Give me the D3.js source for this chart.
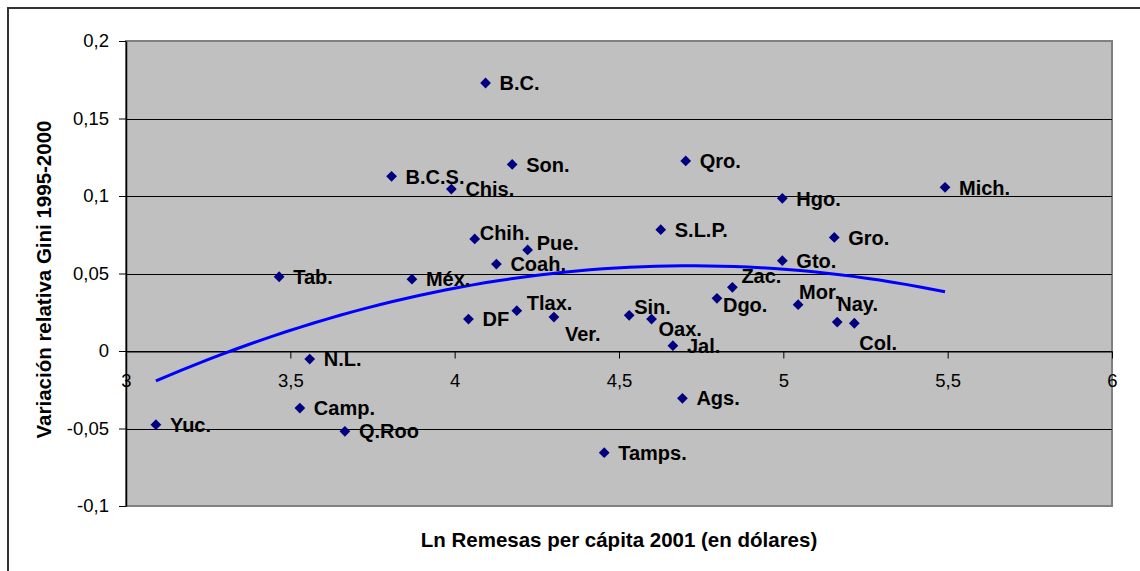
<!DOCTYPE html>
<html>
<head>
<meta charset="utf-8">
<script src="https://cdn.jsdelivr.net/npm/d3@7"></script>
<style>
  body { margin: 0; background: #fff; }
  svg { display: block; font-family: Arial, "Liberation Sans", sans-serif; }
  .state-label { font-weight: bold; font-size: 20px; fill: #000; }
  .axis text { font-size: 18.5px; fill: #000; }
  .axis-title { font-weight: bold; font-size: 20.5px; fill: #000; }
</style>
</head>
<body>
<div id="chart"></div>
<script>
// Data
const states = ["B.C.", "Son.", "Qro.", "B.C.S.", "Chis.", "Chih.", "Pue.", "Coah.", "Méx.", "S.L.P.",
  "Zac.", "Hgo.", "Mich.", "Gro.", "Gto.", "Mor.", "Nay.", "Col.", "Tab.", "N.L.",
  "Camp.", "Yuc.", "Q.Roo", "DF", "Tlax.", "Ver.", "Sin.", "Oax.", "Jal.", "Dgo.",
  "Ags.", "Tamps."];
const lnRemesas = [4.094, 4.175, 4.703, 3.808, 3.990, 4.061, 4.222, 4.127, 3.870, 4.627,
  4.845, 4.997, 5.492, 5.155, 4.997, 5.045, 5.164, 5.216, 3.466, 3.559,
  3.529, 3.091, 3.666, 4.042, 4.189, 4.302, 4.531, 4.599, 4.664, 4.798,
  4.693, 4.455];
const giniVar = [0.1729, 0.1204, 0.1226, 0.1127, 0.1045, 0.0723, 0.0652, 0.0561, 0.0463, 0.0783,
  0.0411, 0.0985, 0.1056, 0.0733, 0.0583, 0.0299, 0.0187, 0.0179, 0.0479, -0.0052,
  -0.0368, -0.0475, -0.0518, 0.0206, 0.0260, 0.0219, 0.0230, 0.0206, 0.0034, 0.0340,
  -0.0305, -0.0656];

const xTicks = [3, 3.5, 4, 4.5, 5, 5.5, 6];
const xTickLabels = ["3", "3,5", "4", "4,5", "5", "5,5", "6"];
const yTicks = [-0.1, -0.05, 0, 0.05, 0.1, 0.15, 0.2];
const yTickLabels = ["-0,1", "-0,05", "0", "0,05", "0,1", "0,15", "0,2"];

const xTitle = "Ln Remesas per cápita 2001 (en dólares)";
const yTitle = "Variación relativa Gini 1995-2000";

// label placement tweaks (px from the marker), default is to the right
const labelNudge = {
  "Chih.": [5, -6], "Pue.": [9, -7], "Zac.": [9, -11], "Dgo.": [6, 6],
  "Mor.": [1, -13], "Nay.": [0, -18], "Col.": [5, 20], "Tlax.": [10, -8],
  "Ver.": [11, 17], "Sin.": [5, -9], "Oax.": [7, 10]
};

const width = 1140, height = 571;
const plot = { left: 126, right: 1112, top: 41, bottom: 506 };

const svg = d3.select("#chart").append("svg")
  .attr("width", width)
  .attr("height", height);

// outer chart frame (runs off the right/bottom edge)
svg.append("rect")
  .attr("x", 8).attr("y", 8)
  .attr("width", width).attr("height", height)
  .attr("fill", "#fff")
  .attr("stroke", "#333")
  .attr("stroke-width", 2);

const x = d3.scaleLinear().domain([3, 6]).range([plot.left, plot.right]);
const y = d3.scaleLinear().domain([-0.1, 0.2]).range([plot.bottom, plot.top]);

// plot background
svg.append("rect")
  .attr("x", plot.left).attr("y", plot.top)
  .attr("width", plot.right - plot.left)
  .attr("height", plot.bottom - plot.top)
  .attr("fill", "#c0c0c0")
  .attr("stroke", "#808080")
  .attr("stroke-width", 2);

// gridlines
svg.append("g")
  .selectAll("line")
  .data(yTicks.filter(d => d > -0.1 && d < 0.2))
  .join("line")
  .attr("x1", plot.left).attr("x2", plot.right)
  .attr("y1", d => Math.round(y(d)) + 0.5)
  .attr("y2", d => Math.round(y(d)) + 0.5)
  .attr("stroke", "#000")
  .attr("stroke-width", 1);

// y axis
const yAxis = svg.append("g")
  .attr("class", "axis")
  .attr("transform", `translate(${plot.left},0)`)
  .call(d3.axisLeft(y)
    .tickValues(yTicks)
    .tickFormat((d, i) => yTickLabels[i])
    .tickSize(7)
    .tickSizeOuter(0)
    .tickPadding(10));
yAxis.select(".domain").attr("stroke", "#000").attr("stroke-width", 1.5);
yAxis.selectAll(".tick line").attr("stroke", "#000");

// x axis crosses at y = 0
const xAxis = svg.append("g")
  .attr("class", "axis")
  .attr("transform", `translate(0,${Math.round(y(0)) + 0.5})`)
  .call(d3.axisBottom(x)
    .tickValues(xTicks)
    .tickFormat((d, i) => xTickLabels[i])
    .tickSize(7)
    .tickSizeOuter(0)
    .tickPadding(15));
xAxis.select(".domain").attr("stroke", "#000");
xAxis.selectAll(".tick line").attr("stroke", "#000");
svg.selectAll(".axis text").attr("font-family", null).attr("font-size", null);

// polynomial (order 2) trendline, least squares on the points
function quadFit(xs, ys) {
  const S = new Array(5).fill(0), T = [0, 0, 0];
  xs.forEach((xv, i) => {
    for (let k = 0; k < 5; k++) S[k] += Math.pow(xv, k);
    for (let k = 0; k < 3; k++) T[k] += ys[i] * Math.pow(xv, k);
  });
  const A = [[S[0], S[1], S[2], T[0]], [S[1], S[2], S[3], T[1]], [S[2], S[3], S[4], T[2]]];
  for (let c = 0; c < 3; c++) {
    for (let r = c + 1; r < 3; r++) {
      const f = A[r][c] / A[c][c];
      for (let k = c; k < 4; k++) A[r][k] -= f * A[c][k];
    }
  }
  const coef = [0, 0, 0];
  for (let r = 2; r >= 0; r--) {
    let s = A[r][3];
    for (let k = r + 1; k < 3; k++) s -= A[r][k] * coef[k];
    coef[r] = s / A[r][r];
  }
  return coef;
}
const coef = quadFit(lnRemesas, giniVar);
const [xMin, xMax] = d3.extent(lnRemesas);
const trend = d3.range(0, 61).map(i => {
  const xv = xMin + (xMax - xMin) * i / 60;
  return [xv, coef[0] + coef[1] * xv + coef[2] * xv * xv];
});
svg.append("path")
  .datum(trend)
  .attr("fill", "none")
  .attr("stroke", "#0000ff")
  .attr("stroke-width", 3)
  .attr("d", d3.line().x(d => x(d[0])).y(d => y(d[1])));

// points
const pts = states.map((s, i) => ({ name: s, x: lnRemesas[i], y: giniVar[i] }));
svg.append("g")
  .selectAll("path")
  .data(pts)
  .join("path")
  .attr("d", d3.symbol(d3.symbolSquare, 58))
  .attr("transform", d => `translate(${x(d.x)},${y(d.y)}) rotate(45)`)
  .attr("fill", "#000080");

svg.append("g")
  .selectAll("text")
  .data(pts)
  .join("text")
  .attr("class", "state-label")
  .attr("x", d => x(d.x) + (labelNudge[d.name] ? labelNudge[d.name][0] : 14))
  .attr("y", d => y(d.y) + (labelNudge[d.name] ? labelNudge[d.name][1] : 0))
  .attr("dy", "0.36em")
  .text(d => d.name);

// axis titles
svg.append("text")
  .attr("class", "axis-title")
  .attr("x", (plot.left + plot.right) / 2)
  .attr("y", 547)
  .attr("text-anchor", "middle")
  .text(xTitle);

svg.append("text")
  .attr("class", "axis-title")
  .attr("transform", `translate(51,${(plot.top + plot.bottom) / 2 + 6}) rotate(-90)`)
  .attr("text-anchor", "middle")
  .text(yTitle);
</script>
</body>
</html>
